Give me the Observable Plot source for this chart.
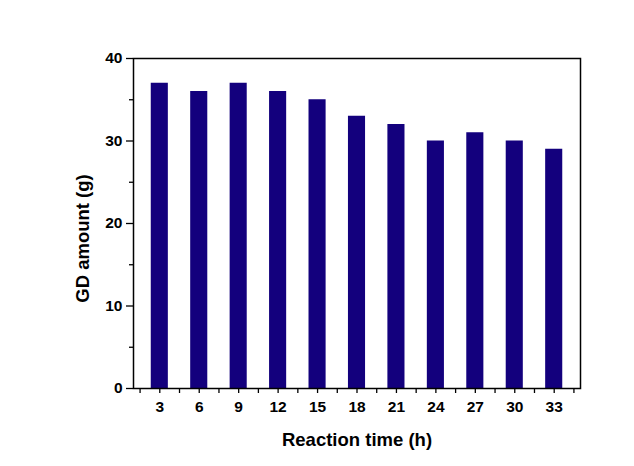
<!DOCTYPE html>
<html>
<head>
<meta charset="utf-8">
<script src="https://cdn.jsdelivr.net/npm/d3@7"></script>
<script src="https://cdn.jsdelivr.net/npm/@observablehq/plot@0.6"></script>
<style>
  html, body { margin: 0; padding: 0; background: #fff; }
</style>
</head>
<body>
<div id="chart"></div>
<script>
const times = [3, 6, 9, 12, 15, 18, 21, 24, 27, 30, 33];
const amounts = [37, 36, 37, 36, 35, 33, 32, 30, 31, 30, 29];
const yTicks = [0, 10, 20, 30, 40];
const yMinor = [5, 15, 25, 35];
const xMinor = [1.5, 4.5, 7.5, 10.5, 13.5, 16.5, 19.5, 22.5, 25.5, 28.5, 31.5, 34.5];

const data = times.map((t, i) => ({t, v: amounts[i]}));
const halfW = 0.65;

const chart = Plot.plot({
  width: 634,
  height: 466,
  marginLeft: 133,
  marginTop: 58,
  marginRight: 54,
  marginBottom: 78,
  style: {fontFamily: "'Liberation Sans', Arial, sans-serif", fontWeight: "bold", fontSize: "14px", color: "#000", background: "#fff"},
  x: {domain: [1, 35]},
  y: {domain: [0, 40]},
  marks: [
    Plot.rectY(data, {x1: d => d.t - halfW, x2: d => d.t + halfW, y1: 0, y2: "v", fill: "#13007D"}),
    Plot.axisY({ticks: yTicks, tickSize: 7, tickPadding: 4, fontSize: 15.5, fontWeight: "bold", label: null, stroke: "#000", strokeWidth: 1.3}),
    Plot.axisY({ticks: yMinor, tickSize: 4, text: null, label: null, strokeWidth: 1.3}),
    Plot.axisX({ticks: times, tickSize: 5, tickPadding: 7, fontSize: 15.5, fontWeight: "bold", label: null, strokeWidth: 1.3}),
    Plot.axisX({ticks: xMinor, tickSize: 5, text: null, label: null, strokeWidth: 1.3}),
    Plot.frame({stroke: "#000", strokeWidth: 1.5}),
    Plot.text(["GD amount (g)"], {frameAnchor: "left", dx: -50, dy: 15, rotate: -90, fontSize: 18.5, fontWeight: "bold", textAnchor: "middle"}),
    Plot.text(["Reaction time (h)"], {frameAnchor: "bottom", dy: 57, fontSize: 18.5, fontWeight: "bold", textAnchor: "middle"})
  ]
});
document.getElementById("chart").appendChild(chart);
</script>
</body>
</html>
